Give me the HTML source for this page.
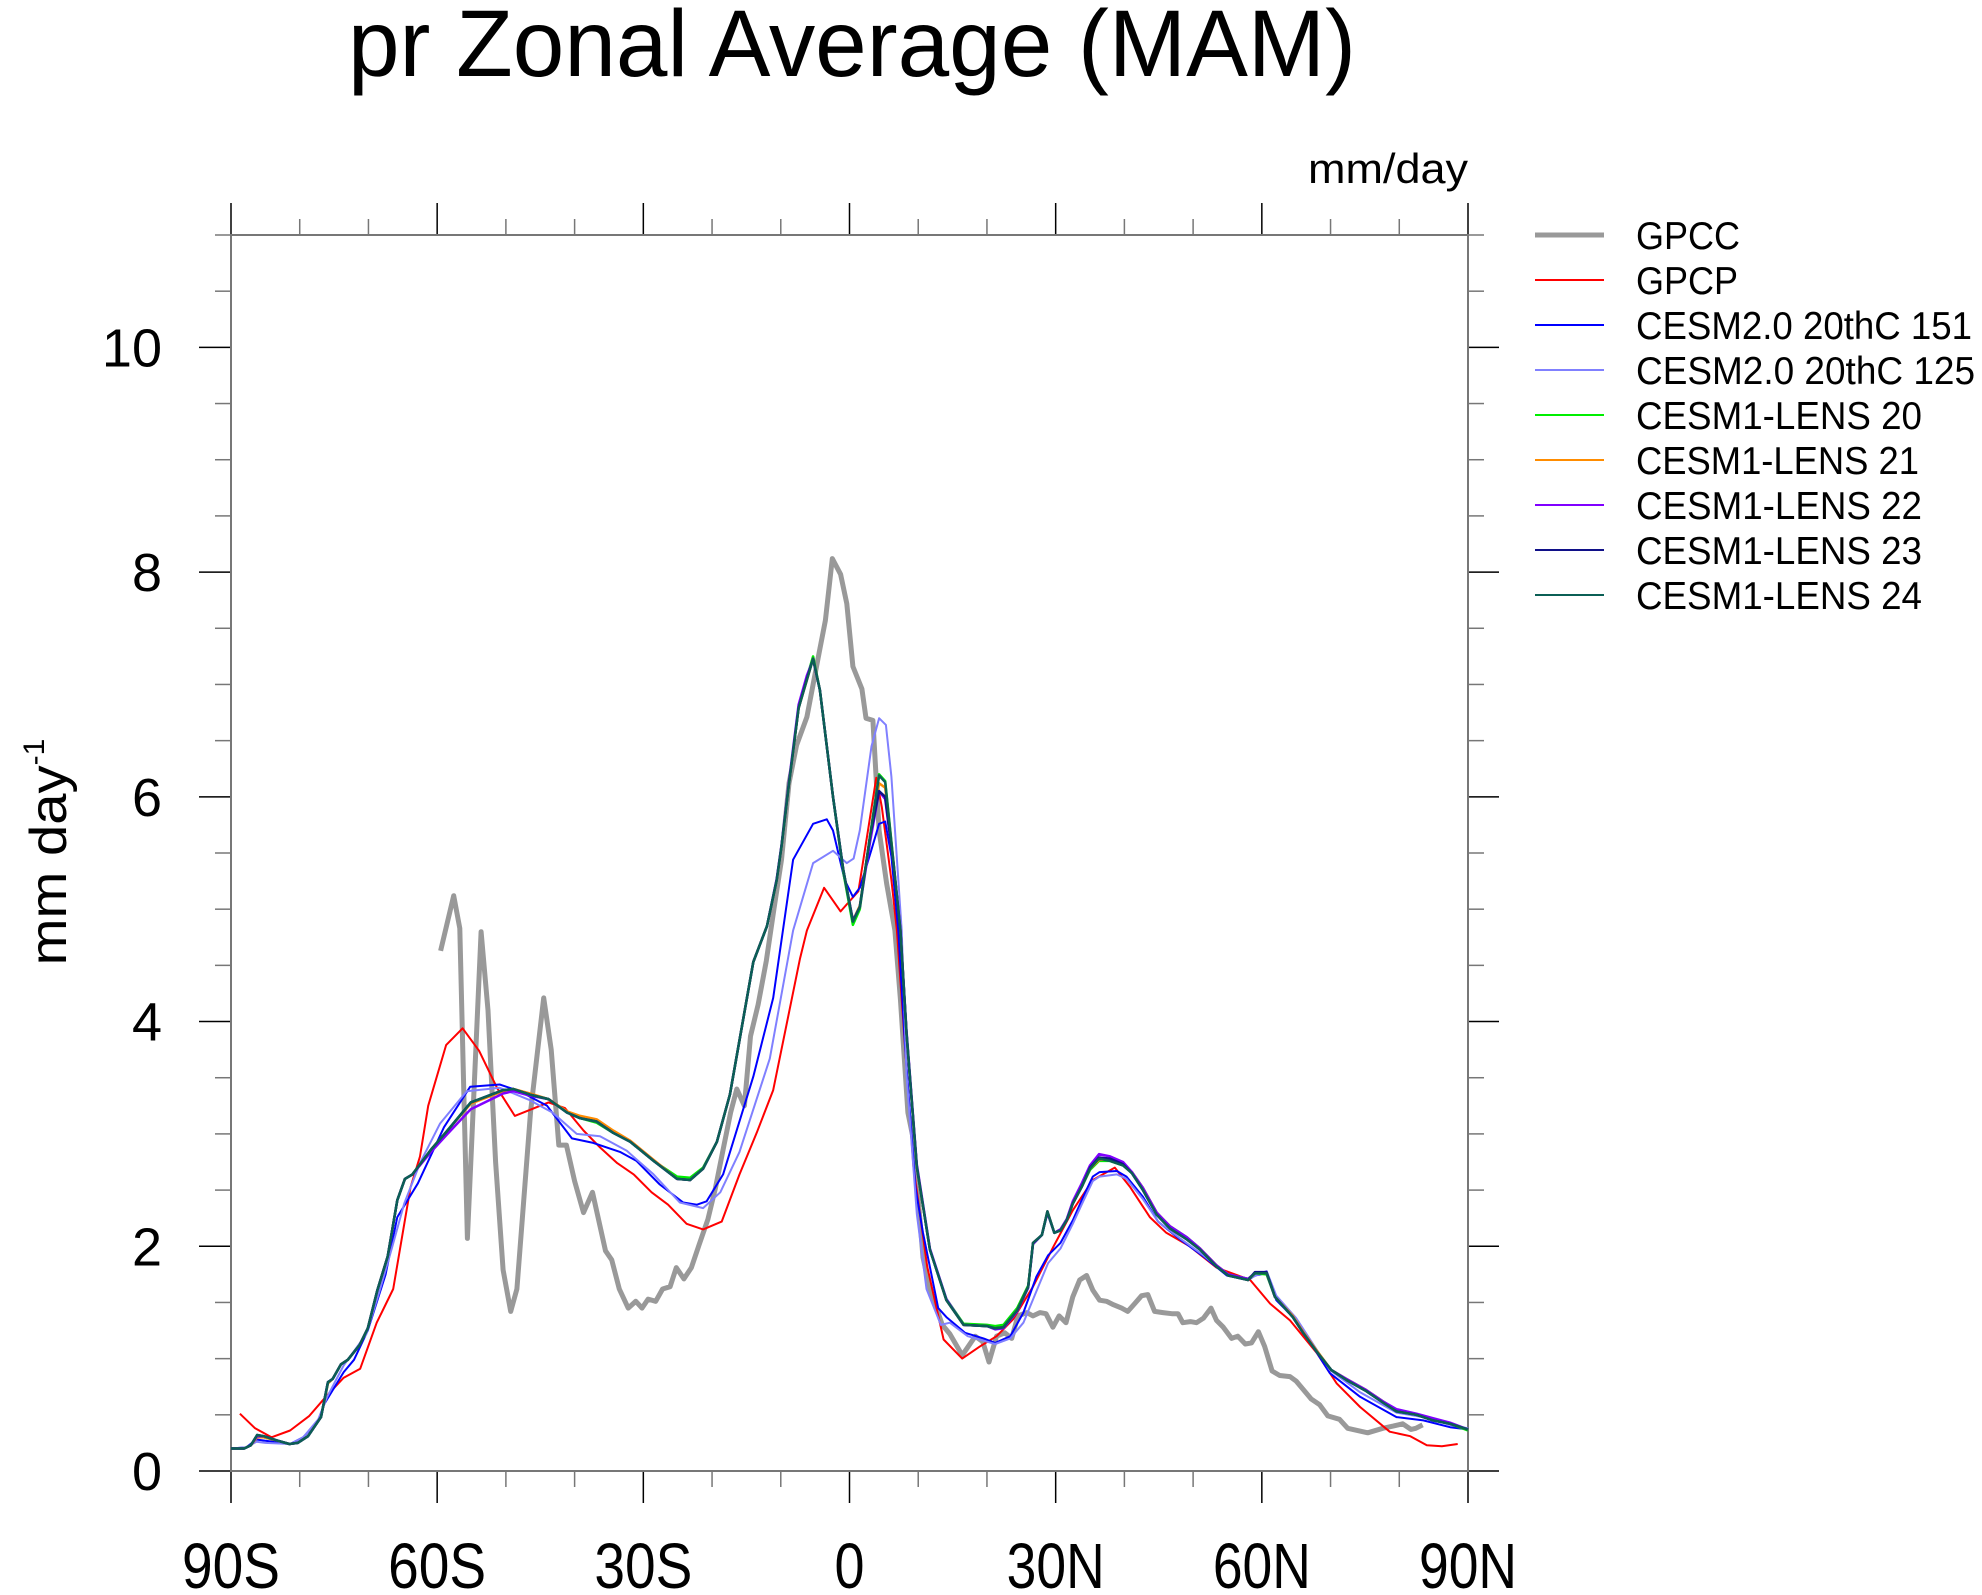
<!DOCTYPE html>
<html><head><meta charset="utf-8"><title>pr Zonal Average (MAM)</title>
<style>html,body{margin:0;padding:0;background:#fff;}svg{display:block;font-family:"Liberation Sans",sans-serif;}</style>
</head><body>
<svg id="chart" width="1982" height="1595" viewBox="0 0 1982 1595" xmlns="http://www.w3.org/2000/svg">
<text x="852" y="76" font-size="95" text-anchor="middle" textLength="1008" lengthAdjust="spacingAndGlyphs">pr Zonal Average (MAM)</text>
<text x="1468" y="183" font-size="42" text-anchor="end" textLength="160" lengthAdjust="spacingAndGlyphs">mm/day</text>
<text transform="translate(66,852) rotate(-90)" font-size="52" text-anchor="middle"><tspan textLength="200" lengthAdjust="spacingAndGlyphs">mm day</tspan><tspan dy="-22" font-size="30">-1</tspan></text>
<g id="axes"></g>
<g id="series"></g>
<g id="legend"></g>
</svg>
<script>
const yTicks = [0, 2, 4, 6, 8, 10];
const xTickLats = [-90, -60, -30, 0, 30, 60, 90];
const xTickLabels = ["90S", "60S", "30S", "0", "30N", "60N", "90N"];

const gpccLat = [-59.5,-57.6,-56.7,-55.6,-53.6,-52.6,-51.5,-50.4,-49.3,-48.4,-46.4,-44.5,-43.4,-42.3,-41.2,-40,-38.7,-37.4,-35.5,-34.6,-33.5,-32.2,-31.1,-30.2,-29.3,-28.2,-27.2,-26.1,-25.2,-24.1,-23,-21.9,-20.6,-19.5,-18.4,-17.3,-16.4,-15.3,-14.4,-13.3,-12.1,-11,-9.9,-8.8,-7.7,-6.2,-4.4,-3.5,-2.5,-1.3,-0.4,0.5,1.8,2.4,3.4,4.3,5.4,6.6,7.4,8.5,9.3,10.7,11.7,13.5,14.6,16.4,18.3,19.4,20.3,21.4,22.6,23.6,24.5,25.8,26.7,27.7,28.6,29.6,30.5,31.5,32.5,33.5,34.5,35.4,36.4,37.4,38.4,39.6,40.5,41.5,42.5,43.4,44.4,45.6,46.9,47.8,48.5,49.6,50.5,51.5,52.6,53.4,54.4,55.6,56.5,57.6,58.5,59.5,60.4,61.5,62.6,64.1,65,67.2,68.4,69.6,71.3,72.5,75.4,77.6,79.1,80.5,81.7,82.4,83.4];
const gpccVal = [4.63,5.12,4.83,2.07,4.8,4.1,2.75,1.79,1.42,1.62,3.2,4.21,3.75,2.9,2.9,2.58,2.3,2.48,1.96,1.88,1.62,1.45,1.51,1.45,1.53,1.51,1.62,1.64,1.81,1.71,1.81,2.01,2.24,2.52,2.86,3.19,3.4,3.25,3.87,4.15,4.54,5.0,5.44,6.12,6.46,6.71,7.29,7.57,8.12,7.98,7.72,7.16,6.96,6.7,6.68,5.7,5.23,4.81,4.2,3.19,2.95,1.9,1.62,1.3,1.22,1.03,1.2,1.15,0.97,1.2,1.23,1.18,1.38,1.41,1.38,1.41,1.4,1.28,1.38,1.32,1.55,1.7,1.74,1.61,1.52,1.51,1.48,1.45,1.42,1.49,1.56,1.57,1.42,1.41,1.4,1.4,1.32,1.33,1.32,1.36,1.45,1.34,1.28,1.18,1.2,1.13,1.14,1.24,1.11,0.89,0.85,0.84,0.8,0.64,0.59,0.49,0.46,0.38,0.34,0.38,0.4,0.42,0.37,0.38,0.41];

const gpcpLat = [-88.7,-86.5,-84.1,-81.4,-78.6,-76.2,-73.6,-71.2,-68.8,-66.4,-63.9,-62.5,-61.3,-58.7,-56.3,-53.9,-51.3,-48.7,-43.8,-41.4,-38.7,-36.3,-33.8,-31.4,-28.8,-26.4,-23.7,-21.3,-18.6,-16,-13.5,-11.1,-7.2,-6.2,-3.7,-1.3,1.3,3.9,4.7,6.1,6.9,9.3,11.3,13.7,16.4,19,21.4,23.8,26.7,29.7,32.5,35.4,38.6,40.8,43.7,46.1,49.5,53.4,58.3,61.2,64.1,68,70.9,74.3,78.6,81.6,84,86.2,88.5];
const gpcpVal = [0.51,0.38,0.3,0.36,0.49,0.66,0.83,0.91,1.32,1.62,2.52,2.8,3.25,3.79,3.94,3.74,3.41,3.16,3.28,3.23,3.03,2.88,2.74,2.64,2.48,2.37,2.2,2.15,2.22,2.64,3.01,3.39,4.56,4.81,5.19,4.98,5.16,6.17,5.91,5.26,4.81,2.71,1.82,1.17,1.0,1.11,1.2,1.35,1.64,2.0,2.32,2.59,2.7,2.53,2.26,2.12,2.0,1.81,1.7,1.49,1.34,1.05,0.78,0.57,0.35,0.31,0.23,0.22,0.24];

const c151Lat = [-90,-87.8,-86.3,-85,-81.4,-79.5,-77.3,-76.4,-73.6,-72.1,-70.1,-67.5,-65.8,-62.8,-59,-55.2,-50.9,-48,-44,-40.4,-37.3,-33.4,-31,-27.6,-24.2,-22.2,-20.8,-18.4,-14,-11.1,-8.2,-5.3,-3.3,-2.4,-0.7,0.5,1.5,3.2,4.3,5.2,6.1,7.1,8.1,9.6,10.7,12.9,14.1,16.8,19.5,21.2,23.4,25.3,27.2,28.9,30.7,32.5,34,35.4,36.4,38.9,40.3,42.7,44.9,48.1,51.5,54.9,58,59,60.7,62.1,65,69.9,74.3,79.6,83.5,87.4,90];
const c151Val = [0.2,0.21,0.28,0.27,0.24,0.3,0.45,0.6,0.88,0.99,1.25,1.75,2.26,2.56,3.06,3.42,3.44,3.38,3.25,2.96,2.92,2.84,2.76,2.55,2.39,2.37,2.4,2.64,3.51,4.21,5.44,5.76,5.8,5.7,5.26,5.11,5.19,5.53,5.76,5.78,5.47,4.81,3.76,2.52,2.12,1.45,1.37,1.23,1.18,1.14,1.2,1.41,1.73,1.92,2.03,2.23,2.44,2.62,2.66,2.67,2.62,2.44,2.22,2.06,1.91,1.74,1.7,1.74,1.76,1.52,1.34,0.87,0.66,0.48,0.45,0.39,0.37];

const c125Lat = [-90,-87.8,-86.3,-85,-81.4,-79.5,-77.3,-76,-73.6,-70.3,-68.5,-66.6,-64.8,-62.5,-59.6,-55.7,-50.9,-46.5,-43.2,-39.7,-36.3,-32.4,-28.5,-24.7,-21.3,-18.8,-16,-11.6,-8.2,-5.3,-2.4,-0.4,0.6,1.5,3.2,4.3,5.3,6.1,7.6,8.3,9.8,11.2,13.3,14.6,17.2,19.5,21.2,23.4,25.3,27.2,28.9,30.7,32.5,34,35.4,36.4,38.9,40.3,42.7,44.9,48.1,51.5,54.9,58,60.7,62.1,65,69.9,74.3,79.6,83.5,87.4,90];
const c125Val = [0.2,0.21,0.26,0.25,0.24,0.3,0.46,0.66,0.94,1.22,1.58,1.98,2.38,2.74,3.09,3.38,3.41,3.3,3.19,3.0,2.98,2.85,2.64,2.39,2.34,2.48,2.84,3.67,4.81,5.41,5.52,5.41,5.45,5.7,6.45,6.7,6.64,6.18,4.81,3.53,2.29,1.62,1.3,1.32,1.2,1.16,1.13,1.18,1.32,1.6,1.85,1.98,2.2,2.4,2.58,2.62,2.64,2.6,2.42,2.22,2.07,1.92,1.75,1.71,1.78,1.56,1.36,0.9,0.7,0.52,0.48,0.41,0.38];

const lensLat = [-90,-88.1,-87.1,-86.2,-85.2,-83.2,-81.5,-80.3,-78.8,-76.9,-75.9,-75.2,-74,-73,-71.3,-70.1,-68.7,-67.2,-65.8,-64.7,-63.6,-60.9,-58.5,-55.1,-50.4,-48.9,-46.5,-43.8,-41.1,-39.2,-36.8,-34.4,-31.9,-28.5,-25.1,-23.2,-21.3,-19.3,-17.4,-14,-12,-10.6,-9.9,-8.8,-7.4,-6.2,-5.3,-4.3,-2.4,-0.9,0.5,1.5,3,4.3,5.2,6.4,7.4,8.3,9.8,11.7,14.1,16.6,20,21.2,22.4,24.4,26,26.7,28,28.8,29.8,30.7,31.6,32.5,33.8,35,36.3,37.9,39.8,41.1,42.7,44.7,46.6,49.1,51,53.4,55.1,58,59,60.7,61.9,64.5,66,68,70.1,72.3,75.2,77.6,79.6,82.5,84.9,87.4,90];
const lens20 = [0.2,0.2,0.23,0.31,0.3,0.27,0.24,0.25,0.31,0.48,0.78,0.82,0.95,0.99,1.12,1.27,1.61,1.91,2.41,2.6,2.64,2.86,3.03,3.28,3.38,3.4,3.35,3.31,3.19,3.14,3.1,3.01,2.93,2.76,2.62,2.61,2.7,2.93,3.35,4.53,4.85,5.26,5.56,6.12,6.79,7.06,7.25,6.95,6.0,5.33,4.86,5.0,5.65,6.2,6.14,5.42,4.82,3.9,2.71,1.97,1.53,1.31,1.3,1.29,1.3,1.45,1.65,2.02,2.1,2.3,2.12,2.15,2.24,2.38,2.53,2.68,2.76,2.76,2.72,2.66,2.52,2.3,2.18,2.08,1.98,1.83,1.75,1.71,1.76,1.75,1.55,1.37,1.23,1.07,0.9,0.82,0.72,0.62,0.54,0.5,0.46,0.42,0.36];
const lens21 = [0.2,0.2,0.23,0.3,0.3,0.27,0.24,0.25,0.31,0.48,0.78,0.82,0.95,0.99,1.12,1.27,1.61,1.91,2.41,2.6,2.64,2.86,3.03,3.27,3.38,3.4,3.36,3.31,3.2,3.16,3.13,3.03,2.94,2.77,2.6,2.59,2.69,2.93,3.35,4.53,4.85,5.26,5.56,6.12,6.79,7.04,7.23,6.95,6.0,5.35,4.9,5.03,5.65,6.12,6.08,5.42,4.82,3.9,2.71,1.97,1.52,1.3,1.29,1.27,1.28,1.43,1.64,2.03,2.1,2.31,2.12,2.14,2.23,2.38,2.53,2.69,2.77,2.77,2.73,2.66,2.52,2.3,2.18,2.07,1.98,1.83,1.75,1.7,1.76,1.76,1.55,1.38,1.24,1.07,0.9,0.82,0.72,0.62,0.54,0.5,0.46,0.42,0.37];
const lens22 = [0.2,0.2,0.23,0.31,0.31,0.27,0.24,0.25,0.31,0.48,0.79,0.82,0.95,0.99,1.12,1.27,1.61,1.91,2.41,2.6,2.64,2.84,3.0,3.22,3.36,3.38,3.34,3.31,3.19,3.14,3.11,3.01,2.93,2.76,2.6,2.59,2.69,2.93,3.35,4.53,4.85,5.27,5.57,6.14,6.82,7.08,7.22,6.95,6.0,5.35,4.9,5.02,5.6,6.05,5.98,5.4,4.82,3.92,2.73,1.98,1.53,1.3,1.29,1.26,1.27,1.42,1.63,2.02,2.1,2.3,2.12,2.15,2.24,2.4,2.56,2.72,2.82,2.8,2.75,2.66,2.52,2.3,2.18,2.08,1.98,1.83,1.75,1.71,1.76,1.76,1.55,1.37,1.23,1.06,0.9,0.82,0.72,0.62,0.55,0.51,0.47,0.43,0.37];
const lens23 = [0.2,0.2,0.23,0.32,0.31,0.27,0.24,0.25,0.31,0.48,0.79,0.82,0.95,0.99,1.12,1.27,1.61,1.91,2.41,2.6,2.64,2.86,3.03,3.28,3.39,3.4,3.35,3.31,3.19,3.14,3.11,3.01,2.93,2.76,2.6,2.59,2.69,2.93,3.35,4.53,4.85,5.26,5.56,6.12,6.79,7.05,7.23,6.95,6.0,5.35,4.89,5.02,5.65,6.05,6.0,5.41,4.81,3.9,2.71,1.97,1.52,1.3,1.29,1.27,1.28,1.43,1.64,2.03,2.1,2.31,2.12,2.14,2.23,2.38,2.53,2.7,2.79,2.78,2.73,2.65,2.5,2.28,2.16,2.06,1.97,1.82,1.74,1.7,1.77,1.77,1.55,1.37,1.23,1.06,0.9,0.81,0.71,0.61,0.53,0.5,0.45,0.42,0.37];
const lens24 = [0.2,0.2,0.23,0.32,0.31,0.27,0.24,0.25,0.31,0.48,0.79,0.82,0.95,0.99,1.12,1.27,1.61,1.91,2.41,2.6,2.64,2.86,3.03,3.28,3.39,3.4,3.35,3.31,3.19,3.14,3.11,3.01,2.93,2.76,2.6,2.59,2.69,2.93,3.35,4.53,4.85,5.26,5.56,6.12,6.79,7.04,7.23,6.95,6.0,5.35,4.89,5.02,5.65,6.19,6.13,5.41,4.81,3.9,2.71,1.97,1.52,1.3,1.29,1.27,1.28,1.43,1.64,2.03,2.1,2.31,2.12,2.14,2.23,2.38,2.53,2.69,2.78,2.76,2.72,2.65,2.5,2.28,2.16,2.06,1.97,1.82,1.74,1.7,1.76,1.76,1.55,1.37,1.23,1.06,0.9,0.81,0.71,0.61,0.53,0.5,0.45,0.42,0.37];

const seriesNames = ["GPCC","GPCP","CESM2.0 20thC 151","CESM2.0 20thC 125","CESM1-LENS 20","CESM1-LENS 21","CESM1-LENS 22","CESM1-LENS 23","CESM1-LENS 24"];

const NS = "http://www.w3.org/2000/svg";
const X0 = 231, X1 = 1468, Y0 = 1471, Y1 = 235, YMAX = 11;
function xs(lat){ return X0 + (lat + 90) / 180 * (X1 - X0); }
function ys(v){ return Y0 - v / YMAX * (Y0 - Y1); }
function mk(tag, attrs, parent){ const e = document.createElementNS(NS, tag); for (const k in attrs) e.setAttribute(k, attrs[k]); parent.appendChild(e); return e; }

const axes = document.getElementById("axes");
// minor y ticks
for (let v = 0; v <= YMAX + 0.001; v += 0.5) {
  const y = ys(v); const major = Math.abs(v % 2) < 1e-6 && v <= 10;
  const l = mk("line", {x1: major ? 199 : 215, x2: X0, y1: y, y2: y, stroke: major ? "#000" : "#777", "stroke-width": 1.5}, axes);
  
  
  const r = mk("line", {x1: X1, x2: major ? 1499 : 1484, y1: y, y2: y, stroke: major ? "#000" : "#777", "stroke-width": 1.5}, axes);
  
  
}
for (let lat = -90; lat <= 90; lat += 10) {
  const x = xs(lat); const major = lat % 30 === 0;
  const b = mk("line", {x1: x, x2: x, y1: Y0, y2: major ? 1503 : 1487, stroke: major ? "#000" : "#777", "stroke-width": 1.5}, axes);
  
  
  const t = mk("line", {x1: x, x2: x, y1: Y1, y2: major ? 203 : 219, stroke: major ? "#000" : "#777", "stroke-width": 1.5}, axes);
  
  
}
const frame = mk("rect", {x: X0, y: Y1, width: X1 - X0, height: Y0 - Y1, fill: "none", stroke: "#777", "stroke-width": 2}, axes);


yTicks.forEach(v => {
  const t = mk("text", {x: 162, y: ys(v) + 19, "font-size": 54, "text-anchor": "end"}, axes);
  t.textContent = String(v);
  
  
});
xTickLats.forEach((lat, i) => {
  const t = mk("text", {x: xs(lat), y: 1588, "font-size": 64, "text-anchor": "middle", textLength: (xTickLabels[i].length === 1 ? 30 : 98), lengthAdjust: "spacingAndGlyphs"}, axes);
  t.textContent = xTickLabels[i];
  
  
});

const sg = document.getElementById("series");
function drawLine(lats, vals, color, width, name){
  let d = "";
  for (let i = 0; i < lats.length; i++) d += (i ? "L" : "M") + xs(lats[i]).toFixed(1) + "," + ys(vals[i]).toFixed(1);
  const p = mk("path", {d: d, fill: "none", stroke: color, "stroke-width": width, "stroke-linejoin": "round"}, sg);
  
  
}
drawLine(gpccLat, gpccVal, "#999999", 5, "gpcc-line");
drawLine(gpcpLat, gpcpVal, "#ff0000", 2, "gpcp-line");
drawLine(c151Lat, c151Val, "#0000ff", 2, "cesm2-151-line");
drawLine(c125Lat, c125Val, "#8080ff", 2, "cesm2-125-line");
drawLine(lensLat, lens20, "#00ee00", 2.5, "lens-20-line");
drawLine(lensLat, lens21, "#ff8c00", 2.5, "lens-21-line");
drawLine(lensLat, lens22, "#8000ff", 2.5, "lens-22-line");
drawLine(lensLat, lens23, "#101088", 2.5, "lens-23-line");
drawLine(lensLat, lens24, "#0b5f55", 2.5, "lens-24-line");

const colors = ["#999999","#ff0000","#0000ff","#8080ff","#00ee00","#ff8c00","#8000ff","#101088","#0b5f55"];
const widths = [5,2,2,2,2,2,2,2,2];
const textLens = [104,102,336,339,286,283,286,286,286];
const lg = document.getElementById("legend");
seriesNames.forEach((n, i) => {
  const y = 235 + 45 * i;
  const g = mk("g", {}, lg);
  
  
  const l = mk("line", {x1: 1535, x2: 1604, y1: y, y2: y, stroke: colors[i], "stroke-width": widths[i]}, g);
  
  
  const t = mk("text", {x: 1636, y: y + 14, "font-size": 39, textLength: textLens[i], lengthAdjust: "spacingAndGlyphs"}, g);
  t.textContent = n;
  
  
});
</script>
</body></html>
